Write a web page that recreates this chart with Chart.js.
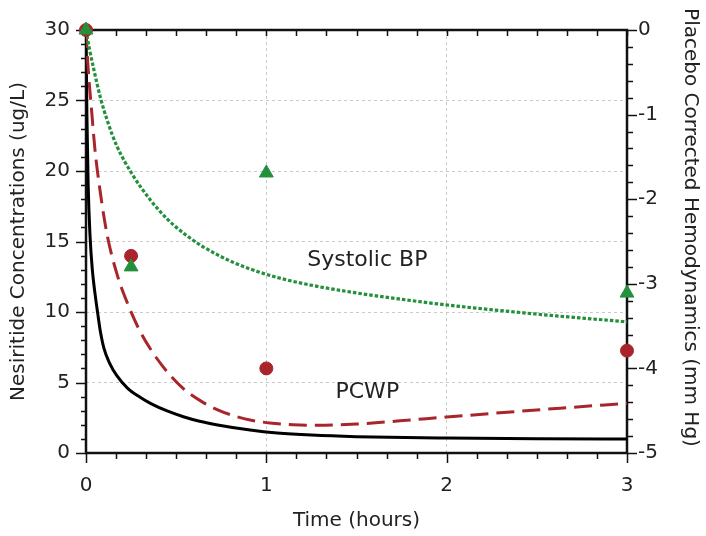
<!DOCTYPE html>
<html>
<head>
<meta charset="utf-8">
<script src="https://cdn.jsdelivr.net/npm/chart.js@4"></script>
<style>
  body { margin: 0; background: #fff; }
</style>
</head>
<body>
<canvas id="graph" width="706" height="536"></canvas>
<script>
// nesiritide concentration (left axis, ug/L)
const concTime = [0, 0.005, 0.012, 0.022, 0.035, 0.05, 0.065, 0.08, 0.1, 0.13, 0.17, 0.23, 0.3, 0.36, 0.45, 0.54, 0.63, 0.73, 0.91, 1.06, 1.25, 1.5, 2, 2.5, 3];
const concValues = [30, 24, 19, 15.5, 13, 11.3, 9.9, 8.6, 7.4, 6.4, 5.5, 4.6, 3.95, 3.5, 2.98, 2.57, 2.25, 1.99, 1.63, 1.42, 1.27, 1.16, 1.06, 1.01, 1.0];

// PCWP model curve (right axis, mm Hg)
const pcwpTime = [0, 0.011, 0.031, 0.05, 0.078, 0.118, 0.174, 0.23, 0.29, 0.36, 0.45, 0.54, 0.64, 0.73, 0.82, 0.91, 1.02, 1.15, 1.28, 1.5, 1.74, 2.0, 2.63, 3];
const pcwpValues = [0, -0.43, -0.95, -1.42, -1.9, -2.43, -2.9, -3.23, -3.52, -3.78, -4.04, -4.24, -4.39, -4.49, -4.56, -4.61, -4.645, -4.667, -4.673, -4.658, -4.62, -4.575, -4.47, -4.413];

// Systolic BP model curve (right axis, mm Hg)
const sbpTime = [0, 0.02, 0.04, 0.08, 0.12, 0.17, 0.26, 0.36, 0.45, 0.54, 0.64, 0.73, 0.82, 0.91, 1.06, 1.25, 1.5, 1.75, 2, 2.5, 3];
const sbpValues = [0, -0.233, -0.433, -0.8, -1.083, -1.367, -1.717, -2.017, -2.233, -2.4, -2.55, -2.658, -2.75, -2.825, -2.925, -3.017, -3.108, -3.183, -3.25, -3.358, -3.45];

// observed points
const obsTime = [0, 0.25, 1, 3];
const pcwpObs = [0, -2.67, -4.0, -3.79];
const sbpObs = [0, -2.8, -1.69, -3.11];

const xTicks = [0, 1, 2, 3];

const RED = '#a8252b';
const GREEN = '#23903b';
const FONT = 'DejaVu Sans';

const pts = (xs, ys) => xs.map((x, i) => ({ x: x, y: ys[i] }));

// frame, minor tick marks, in-plot labels
const framePlugin = {
  id: 'frame',
  beforeDatasetsDraw(chart) {
    const ctx = chart.ctx;
    const a = chart.chartArea;
    const xs = chart.scales.x, yl = chart.scales.y, yr = chart.scales.y2;
    ctx.save();
    ctx.strokeStyle = '#111';
    ctx.lineWidth = 1.5;
    ctx.beginPath();
    for (let i = 0; i <= 18; i++) {
      const px = Math.round(xs.getPixelForValue(i / 6)) + 0.5;
      ctx.moveTo(px, a.bottom);
      ctx.lineTo(px, a.bottom + (i % 6 === 0 ? 10 : 6));
      ctx.moveTo(px, a.top);
      ctx.lineTo(px, a.top + 6);
    }
    for (let v = 0; v <= 30; v++) {
      const py = Math.round(yl.getPixelForValue(v)) + 0.5;
      ctx.moveTo(a.left, py);
      ctx.lineTo(a.left - (v % 5 === 0 ? 10 : 5), py);
    }
    for (let i = 0; i <= 25; i++) {
      const py = Math.round(yr.getPixelForValue(-i / 5)) + 0.5;
      ctx.moveTo(a.right, py);
      ctx.lineTo(a.right + (i % 5 === 0 ? 10 : 6), py);
    }
    ctx.stroke();
    ctx.lineWidth = 2.5;
    ctx.strokeRect(a.left, a.top, a.right - a.left, a.bottom - a.top);
    ctx.restore();
  },
  afterDatasetsDraw(chart) {
    const ctx = chart.ctx;
    const xs = chart.scales.x, yl = chart.scales.y;
    ctx.save();
    ctx.fillStyle = '#222';
    ctx.font = '22px "' + FONT + '"';
    ctx.textAlign = 'center';
    ctx.textBaseline = 'middle';
    ctx.fillText('Systolic BP', xs.getPixelForValue(1.56), yl.getPixelForValue(13.7));
    ctx.fillText('PCWP', xs.getPixelForValue(1.56), yl.getPixelForValue(4.3));
    // right axis title, sits a bit above the plot centre like the original
    ctx.font = '20px "' + FONT + '"';
    ctx.translate(chart.width - 16, (chart.chartArea.top + chart.chartArea.bottom) / 2 - 14);
    ctx.rotate(Math.PI / 2);
    ctx.fillText('Placebo Corrected Hemodynamics (mm Hg)', 0, 0);
    ctx.restore();
  }
};

const gridColor = (lo, hi) => c => (c.tick && (c.tick.value === lo || c.tick.value === hi)) ? 'rgba(0,0,0,0)' : '#c9c9c9';

new Chart(document.querySelector('#graph').getContext('2d'), {
  type: 'scatter',
  data: {
    datasets: [
      {
        data: pts(obsTime, sbpObs), yAxisID: 'y2', clip: false, order: 0,
        pointStyle: 'triangle', pointRadius: 8, pointBackgroundColor: GREEN, pointBorderColor: GREEN, pointBorderWidth: 1
      },
      {
        data: pts(obsTime, pcwpObs), yAxisID: 'y2', clip: false, order: 1,
        pointStyle: 'circle', pointRadius: 6.5, pointBackgroundColor: RED, pointBorderColor: RED, pointBorderWidth: 1
      },
      {
        data: pts(sbpTime, sbpValues), yAxisID: 'y2', showLine: true, pointRadius: 0, order: 2,
        borderColor: GREEN, borderWidth: 3.2, borderDash: [3.5, 2], cubicInterpolationMode: 'monotone'
      },
      {
        data: pts(pcwpTime, pcwpValues), yAxisID: 'y2', showLine: true, pointRadius: 0, order: 3,
        borderColor: RED, borderWidth: 3, borderDash: [18, 8], cubicInterpolationMode: 'monotone'
      },
      {
        data: pts(concTime, concValues), yAxisID: 'y', showLine: true, pointRadius: 0, order: 4,
        borderColor: '#000', borderWidth: 3, cubicInterpolationMode: 'monotone'
      }
    ]
  },
  options: {
    responsive: false,
    animation: false,
    layout: { padding: { top: 30, left: 0, right: 0, bottom: 0 } },
    plugins: { legend: { display: false }, tooltip: { enabled: false } },
    scales: {
      x: {
        type: 'linear', position: 'bottom', min: 0, max: 3,
        afterBuildTicks: s => { s.ticks = xTicks.map(v => ({ value: v })); },
        afterFit: s => { s.height = 83; },
        grid: { color: gridColor(0, 3), drawTicks: false, lineWidth: 1 },
        border: { display: false, dash: [3, 3] },
        ticks: { color: '#222', font: { family: FONT, size: 20 }, padding: 21 },
        title: { display: true, text: 'Time (hours)', color: '#222', font: { family: FONT, size: 20 }, padding: { top: 0, bottom: 3 } }
      },
      y: {
        position: 'left', min: 0, max: 30,
        ticks: { stepSize: 5, color: '#222', font: { family: FONT, size: 20 }, padding: 16 },
        afterFit: s => { s.width = 86; },
        grid: { color: gridColor(0, 30), drawTicks: false, lineWidth: 1 },
        border: { display: false, dash: [3, 3] },
        title: { display: true, text: 'Nesiritide Concentrations (ug/L)', color: '#222', font: { family: FONT, size: 20 }, padding: { top: 7, bottom: 0 } }
      },
      y2: {
        position: 'right', min: -5, max: 0,
        ticks: { stepSize: 1, color: '#222', font: { family: FONT, size: 20 }, padding: 11 },
        afterFit: s => { s.width = 79; },
        grid: { drawOnChartArea: false, drawTicks: false },
        border: { display: false }
      }
    }
  },
  plugins: [framePlugin]
});
</script>
</body>
</html>
